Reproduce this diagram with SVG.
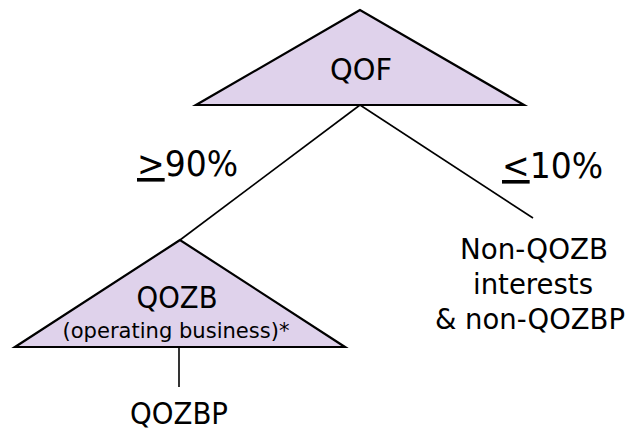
<svg xmlns="http://www.w3.org/2000/svg" width="634" height="432" viewBox="0 0 634 432">
<style>
.tri{fill:#DFD2EB;stroke:#000;stroke-width:2.2;stroke-linejoin:miter}
.ln{stroke:#000;stroke-width:1.6;fill:none}
text{font-family:"DejaVu Sans","Liberation Sans",sans-serif;fill:#000;text-anchor:middle}
.big{font-size:31px}
.stack{font-size:29px}
.pct{font-size:36px;text-anchor:start}
.sm{font-size:22px}
</style>
<rect width="634" height="432" fill="#fff"/>
<g id="connectors">
<line class="ln" x1="360" y1="105" x2="180" y2="240"/>
<line class="ln" x1="360" y1="105" x2="533" y2="218"/>
<line class="ln" x1="179" y1="347" x2="179" y2="387"/>
</g>
<g id="qof">
<polygon class="tri" points="360,10 196,105 524,105"/>
<text class="big" x="361" y="80" textLength="62" lengthAdjust="spacingAndGlyphs">QOF</text>
</g>
<g id="qozb">
<polygon class="tri" points="180,240 15,347 345,347"/>
<text class="big" x="177" y="308" textLength="81" lengthAdjust="spacingAndGlyphs">QOZB</text>
<text class="sm" x="176" y="338" textLength="227" lengthAdjust="spacingAndGlyphs">(operating business)*</text>
</g>
<g id="qozbp">
<text class="big" x="179" y="424" textLength="98" lengthAdjust="spacingAndGlyphs">QOZBP</text>
</g>
<g id="label-90">
<text class="pct" x="137" y="176" textLength="101" lengthAdjust="spacingAndGlyphs"><tspan text-decoration="underline">&gt;</tspan>90%</text>
</g>
<g id="label-10">
<text class="pct" x="502" y="178" textLength="101" lengthAdjust="spacingAndGlyphs"><tspan text-decoration="underline">&lt;</tspan>10%</text>
</g>
<g id="non-qozb">
<text class="stack" x="534" y="259" textLength="148" lengthAdjust="spacingAndGlyphs">Non-QOZB</text>
<text class="stack" x="533" y="294" textLength="120" lengthAdjust="spacingAndGlyphs">interests</text>
<text class="stack" x="530" y="329" textLength="190" lengthAdjust="spacingAndGlyphs" style="font-size:28px">&amp; non-QOZBP</text>
</g>
</svg>
